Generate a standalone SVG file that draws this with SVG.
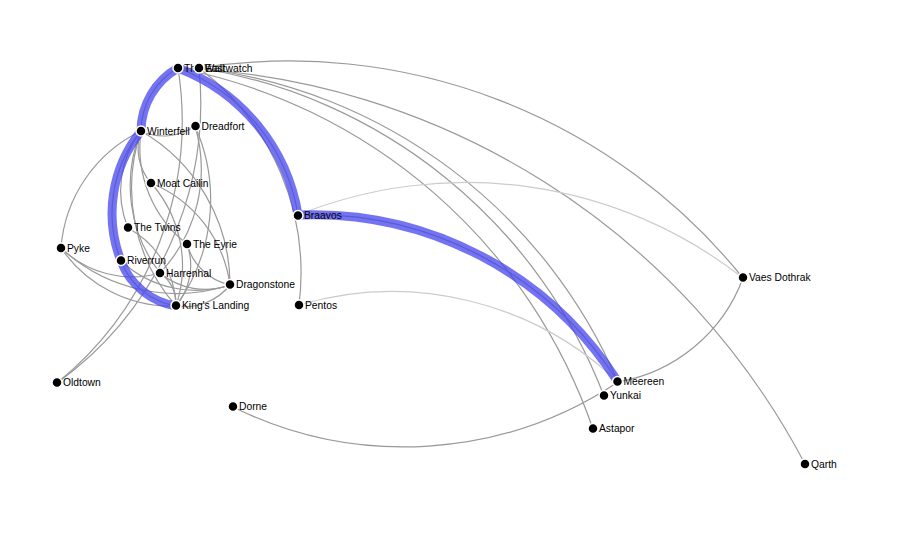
<svg xmlns="http://www.w3.org/2000/svg" width="904" height="541" viewBox="0 0 904 541">
<style>
.e{fill:none;stroke:#999;stroke-width:1.2}
.l{fill:none;stroke:#ccc;stroke-width:1.2}
.p{fill:none;stroke:rgb(70,70,238);stroke-opacity:.75;stroke-width:9}
.n circle{fill:#000;stroke:#fff;stroke-width:1.5}
.n text{font-family:"Liberation Sans",Arial,sans-serif;font-size:10.3px;fill:#000}
</style>
<rect width="904" height="541" fill="#fff"/>
<g id="links">
<path class="e" d="M176,306 A71.1,71.1 0 0,1 121,261"/>
<path class="e" d="M121,261 A131.5,131.5 0 0,1 141,131"/>
<path class="e" d="M141,131 A73.1,73.1 0 0,1 178,68"/>
<path class="e" d="M178,68 A189.8,189.8 0 0,1 298,215"/>
<path class="e" d="M298,215 A361,361 0 0,1 618,382"/>
<path class="e" d="M199,68 A583.1,583.1 0 0,1 743,278"/>
<path class="e" d="M178,68 A741.6,741.6 0 0,1 805,464"/>
<path class="e" d="M178,68 A550,550 0 0,1 593,429"/>
<path class="e" d="M199,68 A520.5,520.5 0 0,1 604,396"/>
<path class="e" d="M199,68 A523.6,523.6 0 0,1 618,382"/>
<path class="e" d="M199,68 A257.2,257.2 0 0,1 299,305"/>
<path class="e" d="M178,68 A337.4,337.4 0 0,1 57,383"/>
<path class="e" d="M199,68 A345.5,345.5 0 0,1 57,383"/>
<path class="l" d="M298,215 A449.4,449.4 0 0,1 743,278"/>
<path class="l" d="M299,305 A328.2,328.2 0 0,1 618,382"/>
<path class="e" d="M743,278 A162.6,162.6 0 0,1 618,382"/>
<path class="e" d="M618,382 A385.8,385.8 0 0,1 233,407"/>
<path class="e" d="M176,306 A133.8,133.8 0 0,1 61,248"/>
<path class="e" d="M160,273 A102.1,102.1 0 0,1 61,248"/>
<path class="e" d="M230,285 A170.7,170.7 0 0,1 61,248"/>
<path class="e" d="M61,248 A141.7,141.7 0 0,1 141,131"/>
<path class="e" d="M195,126 A54.2,54.2 0 0,1 141,131"/>
<path class="e" d="M176,306 A178.5,178.5 0 0,1 141,131"/>
<path class="e" d="M160,273 A143.3,143.3 0 0,1 141,131"/>
<path class="e" d="M141,131 A177.9,177.9 0 0,1 230,285"/>
<path class="e" d="M187,244 A122,122 0 0,1 141,131"/>
<path class="e" d="M151,183 A53,53 0 0,1 141,131"/>
<path class="e" d="M128,228 A97.9,97.9 0 0,1 141,131"/>
<path class="e" d="M195,126 A181,181 0 0,1 176,306"/>
<path class="e" d="M230,285 A57.9,57.9 0 0,1 176,306"/>
<path class="e" d="M230,285 A71,71 0 0,1 160,273"/>
<path class="e" d="M230,285 A110.7,110.7 0 0,1 121,261"/>
<path class="e" d="M187,244 A63.6,63.6 0 0,1 176,306"/>
<path class="e" d="M160,273 A36.9,36.9 0 0,1 176,306"/>
<path class="e" d="M128,228 A91.4,91.4 0 0,1 176,306"/>
<path class="e" d="M151,183 A125.5,125.5 0 0,1 176,306"/>
<path class="e" d="M195,126 A151.5,151.5 0 0,1 160,273"/>
<path class="e" d="M230,285 A57.3,57.3 0 0,1 187,244"/>
<path class="e" d="M151,183 A128.8,128.8 0 0,1 230,285"/>
<path class="p" d="M176,306 A71.1,71.1 0 0,1 121,261 A131.5,131.5 0 0,1 141,131 A73.1,73.1 0 0,1 178,68 A189.8,189.8 0 0,1 298,215 A361,361 0 0,1 618,382"/>
</g>
<g id="nodes">
<g id="n-the-wall" class="n"><circle cx="178" cy="68" r="5"/><text x="184" y="68" dy=".35em">The Wall</text></g>
<g id="n-eastwatch" class="n"><circle cx="199" cy="68" r="5"/><text x="205" y="68" dy=".35em">Eastwatch</text></g>
<g id="n-winterfell" class="n"><circle cx="141" cy="131" r="5"/><text x="147" y="131" dy=".35em">Winterfell</text></g>
<g id="n-dreadfort" class="n"><circle cx="195.5" cy="126" r="5"/><text x="201.5" y="126" dy=".35em">Dreadfort</text></g>
<g id="n-moat-cailin" class="n"><circle cx="151" cy="183" r="5"/><text x="157" y="183" dy=".35em">Moat Cailin</text></g>
<g id="n-the-twins" class="n"><circle cx="128" cy="227.5" r="5"/><text x="134" y="227.5" dy=".35em">The Twins</text></g>
<g id="n-the-eyrie" class="n"><circle cx="187" cy="244" r="5"/><text x="193" y="244" dy=".35em">The Eyrie</text></g>
<g id="n-pyke" class="n"><circle cx="61" cy="248" r="5"/><text x="67" y="248" dy=".35em">Pyke</text></g>
<g id="n-riverrun" class="n"><circle cx="121" cy="260.5" r="5"/><text x="127" y="260.5" dy=".35em">Riverrun</text></g>
<g id="n-harrenhal" class="n"><circle cx="160" cy="273" r="5"/><text x="166" y="273" dy=".35em">Harrenhal</text></g>
<g id="n-dragonstone" class="n"><circle cx="230" cy="284.5" r="5"/><text x="236" y="284.5" dy=".35em">Dragonstone</text></g>
<g id="n-kings-landing" class="n"><circle cx="176" cy="305.5" r="5"/><text x="182" y="305.5" dy=".35em">King's Landing</text></g>
<g id="n-braavos" class="n"><circle cx="298" cy="215.5" r="5"/><text x="304" y="215.5" dy=".35em">Braavos</text></g>
<g id="n-pentos" class="n"><circle cx="299" cy="305" r="5"/><text x="305" y="305" dy=".35em">Pentos</text></g>
<g id="n-vaes-dothrak" class="n"><circle cx="743" cy="277.5" r="5"/><text x="749" y="277.5" dy=".35em">Vaes Dothrak</text></g>
<g id="n-meereen" class="n"><circle cx="617.5" cy="381.5" r="5"/><text x="623.5" y="381.5" dy=".35em">Meereen</text></g>
<g id="n-yunkai" class="n"><circle cx="604" cy="395.5" r="5"/><text x="610" y="395.5" dy=".35em">Yunkai</text></g>
<g id="n-astapor" class="n"><circle cx="593" cy="428.5" r="5"/><text x="599" y="428.5" dy=".35em">Astapor</text></g>
<g id="n-qarth" class="n"><circle cx="805" cy="464" r="5"/><text x="811" y="464" dy=".35em">Qarth</text></g>
<g id="n-oldtown" class="n"><circle cx="57" cy="382.5" r="5"/><text x="63" y="382.5" dy=".35em">Oldtown</text></g>
<g id="n-dorne" class="n"><circle cx="233" cy="406.5" r="5"/><text x="239" y="406.5" dy=".35em">Dorne</text></g>
</g>
</svg>
